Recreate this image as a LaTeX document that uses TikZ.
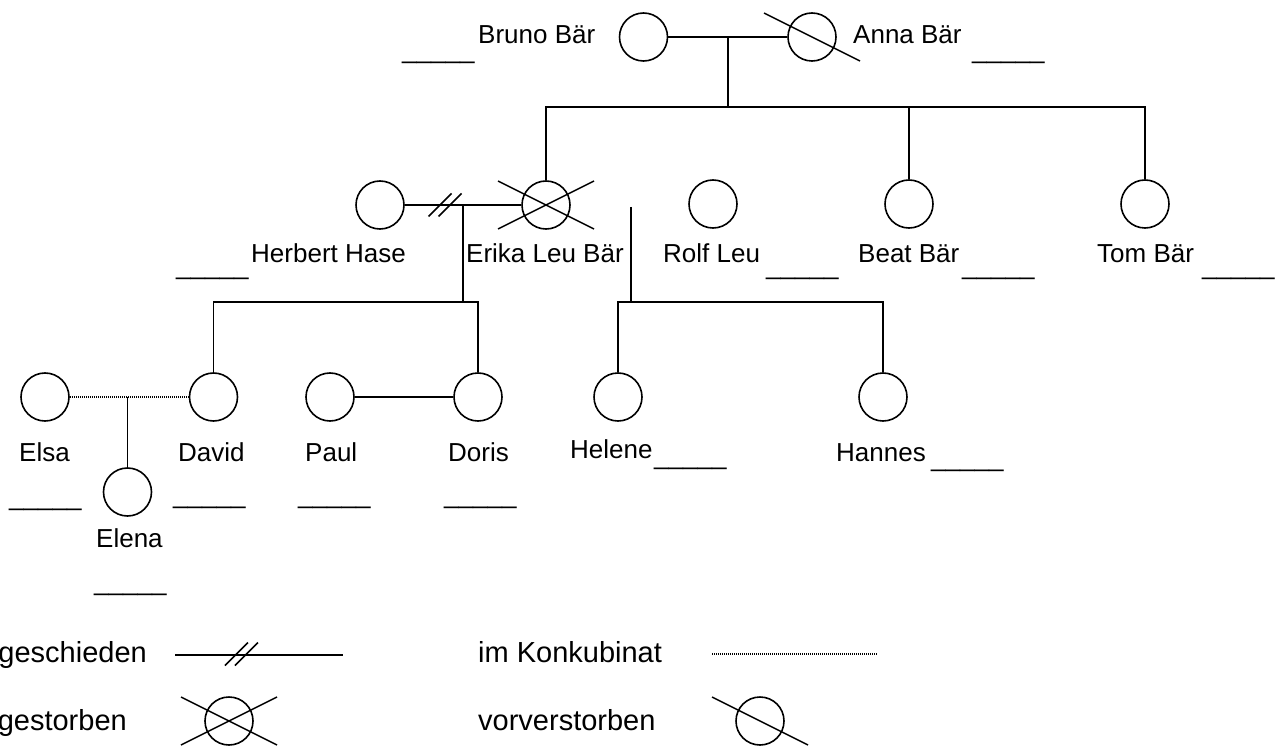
\documentclass[tikz,border=0pt]{standalone}
\usepackage{fontspec}
\setmainfont{Liberation Sans}
\tikzset{
  person/.style={circle, draw, line width=1.6pt, minimum size=48pt, inner sep=0pt},
  rel/.style={line width=1.8pt},
  crossline/.style={line width=1.5pt},
  concub/.style={line width=1.2pt, dash pattern=on 1pt off 1pt},
  lbl/.style={anchor=base west, inner sep=0pt, font=\fontsize{26}{30}\selectfont},
  blank/.style={anchor=base west, inner sep=0pt, font=\fontsize{26}{30}\selectfont},
  legendlbl/.style={inner sep=0pt, font=\fontsize{29}{34}\selectfont},
}
\newcommand{\blankline}{\_\_\_\_\_}
\begin{document}
\begin{tikzpicture}[x=1pt,y=-1pt]
\useasboundingbox (0,0) rectangle (1280,746);

% ---------- first generation ----------
\node[person] (bruno) at (643.5,37) {};
\node[person] (anna) at (812,37) {};
\draw[crossline] ([shift={(-48,-24)}]anna.center) -- ([shift={(48,24)}]anna.center);
\draw[rel] (bruno) -- (anna);
\coordinate (m1) at (728,37);
\coordinate (s1) at (728,107);
\draw[rel] (m1) -- (s1);

\node[lbl] (brunoT) at (478,44) {Bruno Bär};
\node[lbl] (annaT) at (853,44) {Anna Bär};
\node[blank] (brunoB) at (402,58.5) {\blankline};
\node[blank] (annaB) at (972,58.5) {\blankline};

% ---------- second generation ----------
\node[person] (herbert) at (380,205) {};
\node[person] (erika) at (546,205) {};
\node[person] (rolf) at (713,204) {};
\node[person] (beat) at (909,204) {};
\node[person] (tom) at (1145,204) {};

\draw[rel] (erika.north) -- (erika.north |- s1) -- (tom.north |- s1) -- (tom.north);
\draw[rel] (beat.north) -- (beat.north |- s1);

% deceased: crossed circle
\draw[crossline] ([shift={(-48,-24)}]erika.center) -- ([shift={(48,24)}]erika.center);
\draw[crossline] ([shift={(-48,24)}]erika.center) -- ([shift={(48,-24)}]erika.center);

% divorced couple
\draw[rel] (herbert) -- (erika);
\coordinate (dv) at (445,205);
\draw[crossline] ([shift={(-16.5,11.5)}]dv) -- ([shift={(6.5,-11.5)}]dv);
\draw[crossline] ([shift={(-6.5,11.5)}]dv) -- ([shift={(16.5,-11.5)}]dv);

\node[lbl] (herbertT) at (251,262) {Herbert Hase};
\node[lbl] (erikaT) at (466,262) {Erika Leu Bär};
\node[lbl] (rolfT) at (663,262) {Rolf Leu};
\node[lbl] (beatT) at (858,262) {Beat Bär};
\node[lbl] (tomT) at (1097,262) {Tom Bär};
\node[blank] (herbertB) at (176,274.5) {\blankline};
\node[blank] (rolfB) at (766,274.5) {\blankline};
\node[blank] (beatB) at (962,274.5) {\blankline};
\node[blank] (tomB) at (1202,274.5) {\blankline};

% ---------- third generation ----------
\node[person] (elsa) at (45,397) {};
\node[person] (david) at (213.5,397) {};
\node[person] (paul) at (330,397) {};
\node[person] (doris) at (478,397) {};
\node[person] (helene) at (618,397) {};
\node[person] (hannes) at (883,397) {};
\node[person] (elena) at (127.5,492) {};

% children of Herbert and Erika
\coordinate (c1) at (463,205);
\coordinate (c2) at (463,302);
\draw[rel] (c1) -- (c2);
\draw[rel] (david.north) -- (david.north |- c2) -- (doris.north |- c2) -- (doris.north);

% children of Erika's second line
\coordinate (e1) at (631,207);
\coordinate (e2) at (631,302);
\draw[rel] (e1) -- (e2);
\draw[rel] (helene.north) -- (helene.north |- e2) -- (hannes.north |- e2) -- (hannes.north);

% Elsa and David, unmarried, with Elena
\draw[concub] (elsa) -- (david);
\coordinate (k1) at (127.5,397);
\draw[rel] (k1) -- (elena.north);

% Paul and Doris
\draw[rel] (paul) -- (doris);

\node[lbl] (elsaT) at (19,461) {Elsa};
\node[lbl] (davidT) at (178,461) {David};
\node[lbl] (paulT) at (305,461) {Paul};
\node[lbl] (dorisT) at (448,461) {Doris};
\node[lbl] (heleneT) at (570,458) {Helene};
\node[lbl] (hannesT) at (836,461) {Hannes};
\node[lbl] (elenaT) at (96,547) {Elena};
\node[blank] (elsaB) at (9,505.5) {\blankline};
\node[blank] (davidB) at (173,503.5) {\blankline};
\node[blank] (paulB) at (298,503.5) {\blankline};
\node[blank] (dorisB) at (444,503.5) {\blankline};
\node[blank] (elenaB) at (94,590.5) {\blankline};
\node[blank] (heleneB) at (654,464.5) {\blankline};
\node[blank] (hannesB) at (931,466.5) {\blankline};

% ---------- legend ----------
\node[legendlbl, anchor=base east] (lgDiv) at (147,662) {geschieden};
\coordinate (ldA) at (175,655);
\coordinate (ldB) at (343,655);
\draw[rel] (ldA) -- (ldB);
\coordinate (ldv) at (241.5,654);
\draw[crossline] ([shift={(-16.5,11.5)}]ldv) -- ([shift={(6.5,-11.5)}]ldv);
\draw[crossline] ([shift={(-6.5,11.5)}]ldv) -- ([shift={(16.5,-11.5)}]ldv);

\node[legendlbl, anchor=base west] (lgKon) at (478,662) {im Konkubinat};
\coordinate (lkA) at (712,654);
\coordinate (lkB) at (878,654);
\draw[concub] (lkA) -- (lkB);

\node[legendlbl, anchor=base east] (lgGest) at (127,730) {gestorben};
\node[person] (lgX) at (229,721) {};
\draw[crossline] ([shift={(-48,-24)}]lgX.center) -- ([shift={(48,24)}]lgX.center);
\draw[crossline] ([shift={(-48,24)}]lgX.center) -- ([shift={(48,-24)}]lgX.center);

\node[legendlbl, anchor=base west] (lgVor) at (478,730) {vorverstorben};
\node[person] (lgV) at (760,721) {};
\draw[crossline] ([shift={(-48,-24)}]lgV.center) -- ([shift={(48,24)}]lgV.center);
\end{tikzpicture}
\end{document}
